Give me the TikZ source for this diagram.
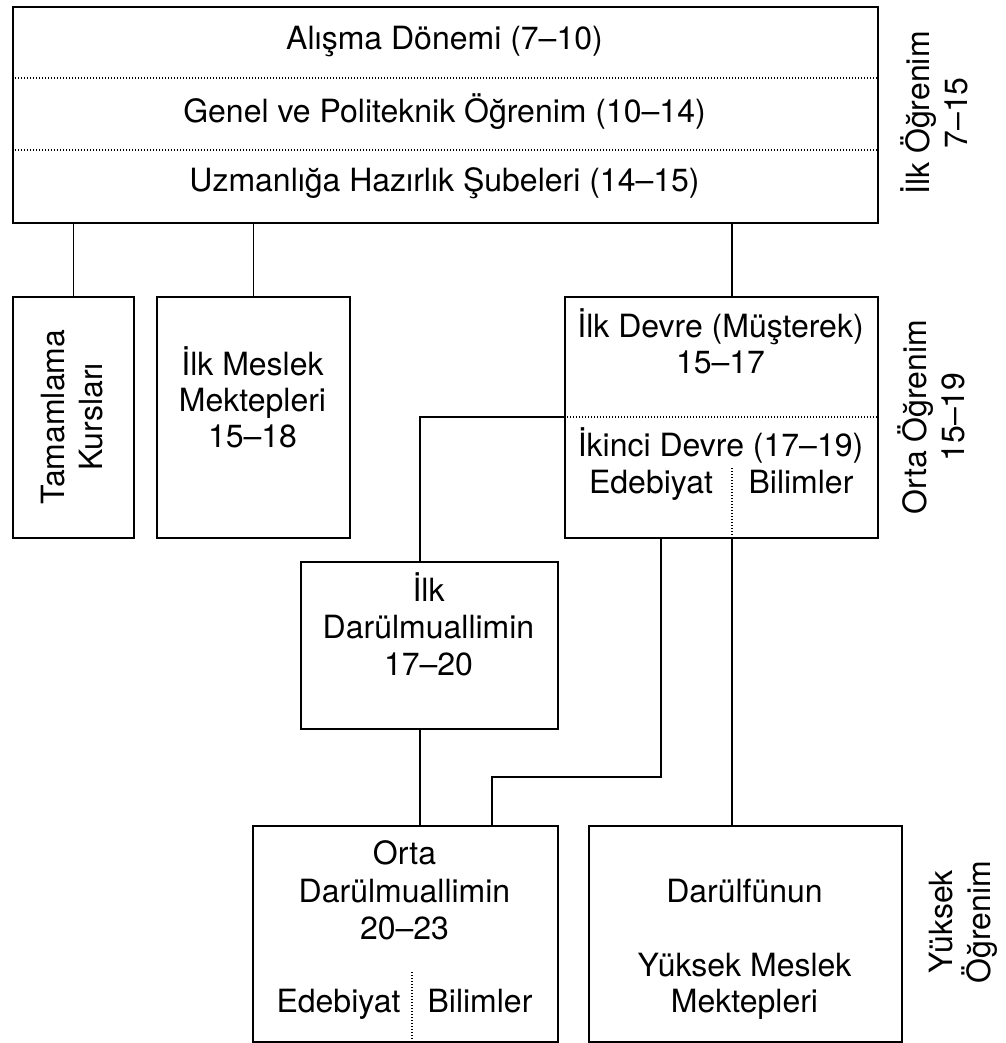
\documentclass[tikz,border=0pt]{standalone}
\usepackage{fontspec}
\setmainfont{TeX Gyre Heros}
\usetikzlibrary{calc}
\begin{document}
\begin{tikzpicture}[x=1pt,y=-1pt,
  box/.style={draw, line width=1.8pt, rectangle, inner sep=0pt, anchor=north west},
  link/.style={line width=1.5pt},
  sep/.style={line width=1.1pt, dash pattern=on 1.1pt off 1.9pt},
  txt/.style={font=\fontsize{32}{38}\selectfont, inner sep=0pt, anchor=base},
  side/.style={font=\fontsize{32}{38}\selectfont, inner sep=0pt, rotate=90, align=center}]
\useasboundingbox (0,0) rectangle (1005,1043);

% boxes
\node[box, minimum width=865pt, minimum height=216pt] (top) at (12,6) {};
\node[box, minimum width=121pt, minimum height=241pt] (tk) at (12,296) {};
\node[box, minimum width=193pt, minimum height=241pt] (meslek) at (156,296) {};
\node[box, minimum width=313pt, minimum height=241pt] (devre) at (564,296) {};
\node[box, minimum width=257pt, minimum height=167pt] (idm) at (300,561) {};
\node[box, minimum width=305pt, minimum height=216pt] (orta) at (252,825) {};
\node[box, minimum width=313pt, minimum height=216pt] (darul) at (588,825) {};

% helper positions
\coordinate (xa) at (732,0);
\coordinate (xb) at (661,0);
\coordinate (xc) at (420,0);
\coordinate (xd) at (492,0);
\coordinate (xe) at (412,0);
\coordinate (ya) at (0,78);
\coordinate (yb) at (0,150);
\coordinate (yc) at (0,417);
\coordinate (yd) at (0,777);
\coordinate (ye) at (0,468);
\coordinate (yf) at (0,972);

% section separators
\draw[sep] (top.west |- ya) -- (top.east |- ya);
\draw[sep] (top.west |- yb) -- (top.east |- yb);
\draw[sep] (devre.west |- yc) -- (devre.east |- yc);
\draw[sep] (xa |- ye) -- (devre.south -| xa);
\draw[sep] (xe |- yf) -- (orta.south -| xe);

% connectors
\draw[link] (top.south -| tk.north) -- (tk.north);
\draw[link] (top.south -| meslek.north) -- (meslek.north);
\draw[link] (top.south -| xa) -- (devre.north -| xa);
\draw[link] (devre.west |- yc) -- (xc |- yc) -- (idm.north -| xc);
\draw[link] (idm.south -| xc) -- (orta.north -| xc);
\draw[link] (devre.south -| xb) -- (xb |- yd) -- (xd |- yd) -- (orta.north -| xd);
\draw[link] (devre.south -| xa) -- (darul.north -| xa);

% top block
\node[txt] (t1) at (444.5,50) {Alışma Dönemi (7–10)};
\node[txt] (t2) at (444.5,123) {Genel ve Politeknik Öğrenim (10–14)};
\node[txt] (t3) at (444.5,192) {Uzmanlığa Hazırlık Şubeleri (14–15)};

% second row
\node[side] (tktext) at (72.5,417) {Tamamlama\\Kursları};
\node[txt] (m1) at (252.5,375) {İlk Meslek};
\node[txt] (m2) at (252.5,411) {Mektepleri};
\node[txt] (m3) at (252.5,447) {15–18};
\node[txt] (d1) at (720.5,337) {İlk Devre (Müşterek)};
\node[txt] (d2) at (720.5,373) {15–17};
\node[txt] (d3) at (720.5,456) {İkinci Devre (17–19)};
\node[txt] (d4) at (651,493) {Edebiyat};
\node[txt] (d5) at (801,493) {Bilimler};

% teacher school
\node[txt] (i1) at (428.5,601) {İlk};
\node[txt] (i2) at (428.5,638) {Darülmuallimin};
\node[txt] (i3) at (428.5,675) {17–20};

% bottom row
\node[txt] (o1) at (404.5,864) {Orta};
\node[txt] (o2) at (404.5,902) {Darülmuallimin};
\node[txt] (o3) at (404.5,939) {20–23};
\node[txt] (o4) at (338.5,1012) {Edebiyat};
\node[txt] (o5) at (480,1012) {Bilimler};
\node[txt] (u1) at (744.5,902) {Darülfünun};
\node[txt] (u2) at (744.5,976) {Yüksek Meslek};
\node[txt] (u3) at (744.5,1012) {Mektepleri};

% level labels
\node[side] (s1) at (934,113) {İlk Öğrenim\\7–15};
\node[side] (s2) at (931,417) {Orta Öğrenim\\15–19};
\node[side] (s3) at (963,922) {Yüksek\\Öğrenim};
\end{tikzpicture}
\end{document}
